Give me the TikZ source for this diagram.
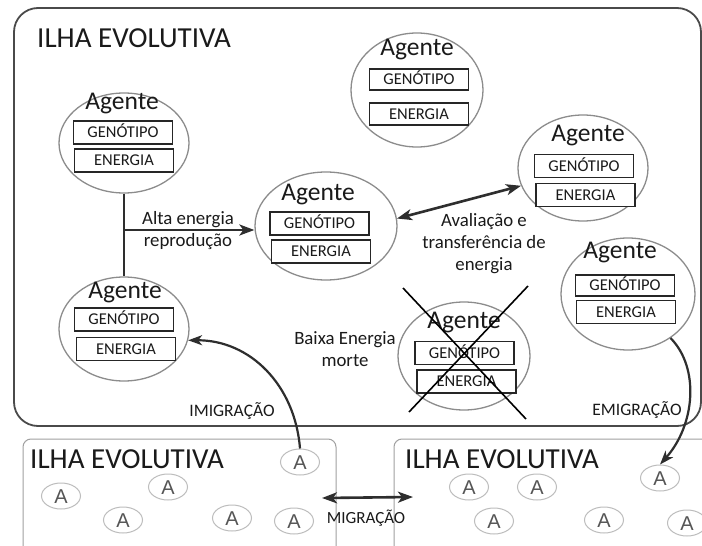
\documentclass[tikz,border=0pt]{standalone}
\usepackage{fontspec}
\setmainfont{Carlito}
\newfontfamily\afont{Liberation Sans}
\usetikzlibrary{shapes.geometric,arrows.meta}

\definecolor{ink}{HTML}{1A1A1A}
\definecolor{isleline}{HTML}{4A4A4A}
\definecolor{farisle}{HTML}{A0A0A0}
\definecolor{circline}{HTML}{8C8C8C}
\definecolor{boxline}{HTML}{262626}
\definecolor{arrowink}{HTML}{2E2E2E}
\definecolor{smallring}{HTML}{BDBDBD}
\definecolor{smalltext}{HTML}{555555}

\tikzset{
  mainisle/.style={draw=isleline, line width=1.8pt, rounded corners=24pt, inner sep=0},
  sideisle/.style={draw=farisle, line width=1pt, rounded corners=8pt, inner sep=0},
  isletitle/.style={font=\fontsize{29}{34}\selectfont, text=ink, inner sep=0},
  agentcirc/.style={ellipse, draw=circline, line width=1.3pt, inner sep=0},
  agentlbl/.style={font=\fontsize{25.5}{30}\selectfont, text=ink, text height=16.4pt, text depth=0pt, inner sep=0},
  fieldbox/.style={draw=boxline, line width=1.3pt, fill=white, minimum width=99pt, minimum height=23pt,
                   inner sep=0, font=\fontsize{16.5}{19}\selectfont, text=ink, text height=10.6pt, text depth=0pt},
  note/.style={font=\fontsize{18.8}{22}\selectfont, text=ink, align=center, inner sep=0},
  smallnote/.style={font=\fontsize{17.5}{20}\selectfont, text=ink, inner sep=0},
  smalla/.style={ellipse, draw=smallring, line width=1pt, minimum width=39pt, minimum height=26pt, inner sep=0,
                 font=\afont\fontsize{20}{23}\selectfont, text=smalltext, text height=14.3pt, text depth=0pt},
  tie/.style={draw=arrowink, line width=2.6pt},
  flow/.style={draw=arrowink, line width=2.6pt, -{Stealth[length=15pt,width=11pt,inset=4pt]}},
  flowthin/.style={draw=arrowink, line width=2.2pt, -{Stealth[length=14pt,width=10pt,inset=4pt]}},
  twoway/.style={draw=arrowink, line width=2.6pt,
                 {Stealth[length=15pt,width=11pt,inset=4pt]}-{Stealth[length=15pt,width=11pt,inset=4pt]}},
  cross/.style={draw=black, line width=1.6pt}
}

\begin{document}
\begin{tikzpicture}[x=1pt,y=-1pt]
  \useasboundingbox (0,0) rectangle (702,546);
  \clip (0,0) rectangle (702,546);
  \fill[white] (0,0) rectangle (702,546);

  % islands
  \node[mainisle, minimum width=687pt, minimum height=418pt] (isMain) at (357.5,217) {};
  \node[sideisle, minimum width=313pt, minimum height=140pt] (isL) at (179.5,509) {};
  \node[sideisle, minimum width=336pt, minimum height=140pt] (isR) at (562,509) {};

  \node[isletitle, anchor=base west] (tMain) at (37,47) {ILHA EVOLUTIVA};
  \node[isletitle, anchor=base west] (tL) at (30,468) {ILHA EVOLUTIVA};
  \node[isletitle, anchor=base west] (tR) at (405,468) {ILHA EVOLUTIVA};

  % agents on the main island
  \node[agentcirc, minimum width=130pt, minimum height=100pt] (A1) at (124,143) {};
  \node[agentlbl] (A1n) at (122,101) {Agente};
  \node[fieldbox] (A1g) at (123,132.5) {GENÓTIPO};
  \node[fieldbox] (A1e) at (124,160.5) {ENERGIA};

  \node[agentcirc, minimum width=130pt, minimum height=104pt] (A2) at (124,329) {};
  \node[agentlbl] (A2n) at (125,290) {Agente};
  \node[fieldbox] (A2g) at (124,319.5) {GENÓTIPO};
  \node[fieldbox] (A2e) at (126,349) {ENERGIA};

  \node[agentcirc, minimum width=142pt, minimum height=108pt] (A3) at (326,226) {};
  \node[agentlbl] (A3n) at (318,192) {Agente};
  \node[fieldbox] (A3g) at (319.5,223.5) {GENÓTIPO};
  \node[fieldbox] (A3e) at (321,251.5) {ENERGIA};

  \node[agentcirc, minimum width=132pt, minimum height=114pt] (A4) at (417,90) {};
  \node[agentlbl] (A4n) at (417,47) {Agente};
  \node[fieldbox, minimum height=21pt] (A4g) at (419,79.5) {GENÓTIPO};
  \node[fieldbox, minimum height=22pt] (A4e) at (419,114) {ENERGIA};

  \node[agentcirc, minimum width=130pt, minimum height=106pt] (A5) at (583,168) {};
  \node[agentlbl] (A5n) at (588,133) {Agente};
  \node[fieldbox] (A5g) at (584,166) {GENÓTIPO};
  \node[fieldbox] (A5e) at (585.5,195) {ENERGIA};

  \node[agentcirc, minimum width=134pt, minimum height=112pt] (A6) at (628,294) {};
  \node[agentlbl] (A6n) at (620,250) {Agente};
  \node[fieldbox, minimum height=21pt] (A6g) at (625,285.5) {GENÓTIPO};
  \node[fieldbox] (A6e) at (626,312) {ENERGIA};

  \node[agentcirc, minimum width=132pt, minimum height=108pt] (A7) at (464,356) {};
  \node[agentlbl] (A7n) at (464,320) {Agente};
  \node[fieldbox] (A7g) at (464.5,353) {GENÓTIPO};
  \node[fieldbox] (A7e) at (466.5,381.5) {ENERGIA};

  % the dead agent is crossed out
  \draw[cross] ([shift={(-61,-68)}]A7.center) -- ([shift={(62,63)}]A7.center);
  \draw[cross] ([shift={(64,-70)}]A7.center) -- ([shift={(-55,56)}]A7.center);

  % agents on the neighbouring islands
  \node[smalla] (aL1) at (300,462) {A};
  \node[smalla] (aL2) at (61,496) {A};
  \node[smalla] (aL3) at (168,487) {A};
  \node[smalla] (aL4) at (123,520) {A};
  \node[smalla] (aL5) at (232,518) {A};
  \node[smalla] (aL6) at (294,521) {A};

  \node[smalla] (aR1) at (469,487) {A};
  \node[smalla] (aR2) at (537,487) {A};
  \node[smalla] (aR3) at (660,478) {A};
  \node[smalla] (aR4) at (494,521) {A};
  \node[smalla] (aR5) at (604,520) {A};
  \node[smalla] (aR6) at (687,523) {A};

  % labels
  \node[note] (lRepro) at (188,231) {Alta energia\\reprodução};
  \node[note] (lAval) at (484,244) {Avaliação e\\transferência de\\energia};
  \node[note] (lDeath) at (345,349) {Baixa Energia\\morte};
  \node[smallnote] (lImig) at (232,411) {IMIGRAÇÃO};
  \node[smallnote] (lEmig) at (637,410) {EMIGRAÇÃO};
  \node[smallnote, font=\fontsize{17}{20}\selectfont] (lMig) at (366,518) {MIGRAÇÃO};

  % reproduction
  \draw[tie] (A1.south) -- (A2.north);
  \coordinate (fork) at (124,230);
  \draw[flow] (fork) -- (fork -| A3.west);

  % evaluation and energy transfer
  \draw[twoway] (A3.6) -- (A5.196);

  % immigration and emigration
  \draw[flowthin] (aL1.north) .. controls (295,385) and (250,340) .. (A2.-10);
  \draw[flowthin] (A6.-46) .. controls (700,368) and (695,425) .. (aR3.north);

  % migration between the neighbouring islands
  \coordinate (migL) at (322,498);
  \coordinate (migR) at (413,497);
  \draw[twoway] (migL) -- (migR);
\end{tikzpicture}
\end{document}
